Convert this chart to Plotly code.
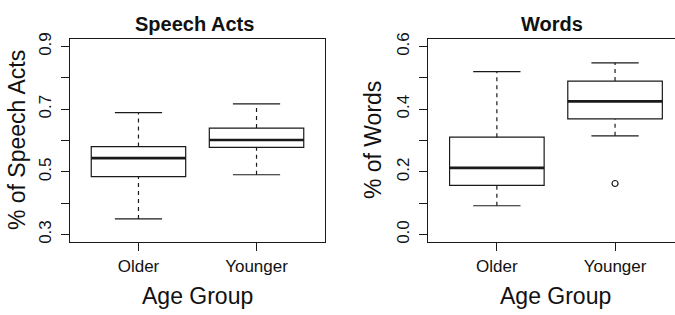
import plotly.graph_objects as go

# ---------------- data ----------------
groups = ["Older", "Younger"]
group_pos = [1, 2]

sa_lower = [0.350, 0.491]
sa_q1 = [0.485, 0.578]
sa_median = [0.544, 0.602]
sa_q3 = [0.581, 0.640]
sa_upper = [0.689, 0.717]
sa_outliers_x = []
sa_outliers_y = []

w_lower = [0.092, 0.315]
w_q1 = [0.157, 0.369]
w_median = [0.213, 0.425]
w_q3 = [0.311, 0.490]
w_upper = [0.520, 0.548]
w_outliers_x = [2]
w_outliers_y = [0.163]

sa_yticks = [0.3, 0.4, 0.5, 0.6, 0.7, 0.8, 0.9]
sa_yticktext = ["0.3", "", "0.5", "", "0.7", "", "0.9"]
w_yticks = [0.0, 0.1, 0.2, 0.3, 0.4, 0.5, 0.6]
w_yticktext = ["0.0", "", "0.2", "", "0.4", "", "0.6"]

# ---------------- style ----------------
W, H = 675, 315
FONT = "Liberation Sans, Arial, Helvetica, sans-serif"
LC = "#1a1a1a"
BOX_W = 0.8
CAP_W = 0.4

fig = go.Figure()


def add_panel(xa, ya, lower, q1, med, q3, upper, ox, oy):
    for i, p in enumerate(group_pos):
        fig.add_trace(go.Box(
            x=[p], q1=[q1[i]], median=[med[i]], q3=[q3[i]],
            lowerfence=[q1[i]], upperfence=[q3[i]],
            width=BOX_W, fillcolor="rgba(0,0,0,0)",
            line=dict(color=LC, width=1.2), whiskerwidth=0,
            boxpoints=False, showlegend=False, hoverinfo="skip",
            xaxis=xa, yaxis=ya))
        # whiskers (dashed)
        for a, b in ((lower[i], q1[i]), (q3[i], upper[i])):
            fig.add_trace(go.Scatter(
                x=[p, p], y=[a, b], mode="lines",
                line=dict(color=LC, width=1.2, dash="4px,4px"),
                showlegend=False, hoverinfo="skip", xaxis=xa, yaxis=ya))
        # caps
        for v in (lower[i], upper[i]):
            fig.add_trace(go.Scatter(
                x=[p - CAP_W / 2, p + CAP_W / 2], y=[v, v], mode="lines",
                line=dict(color=LC, width=1.2),
                showlegend=False, hoverinfo="skip", xaxis=xa, yaxis=ya))
        # thick median
        fig.add_trace(go.Scatter(
            x=[p - BOX_W / 2, p + BOX_W / 2], y=[med[i], med[i]], mode="lines",
            line=dict(color=LC, width=2.6),
            showlegend=False, hoverinfo="skip", xaxis=xa, yaxis=ya))
    if ox:
        fig.add_trace(go.Scatter(
            x=ox, y=oy, mode="markers",
            marker=dict(symbol="circle-open", size=6, color=LC, line=dict(width=1.2)),
            showlegend=False, hoverinfo="skip", xaxis=xa, yaxis=ya))


add_panel("x", "y", sa_lower, sa_q1, sa_median, sa_q3, sa_upper, sa_outliers_x, sa_outliers_y)
add_panel("x2", "y2", w_lower, w_q1, w_median, w_q3, w_upper, w_outliers_x, w_outliers_y)

ydom = [1 - 242 / H, 1 - 33 / H]
x1dom = [70 / W, 325 / W]
x2dom = [428.3 / W, 1.0]

common_x = dict(tickmode="array", tickvals=group_pos, ticktext=groups,
                ticks="outside", ticklen=8, tickcolor=LC, showgrid=False,
                zeroline=False, showline=True, linecolor=LC, linewidth=1.2,
                mirror=True, tickfont=dict(family=FONT, size=17, color="#111"))
common_y = dict(tickmode="array", ticks="outside", ticklen=8, tickcolor=LC,
                showgrid=False, zeroline=False, showline=True, linecolor=LC,
                linewidth=1.2, tickangle=-90, ticklabelstandoff=3,
                tickfont=dict(family=FONT, size=17, color="#111"))

fig.update_layout(
    width=W, height=H,
    margin=dict(l=0, r=0, t=0, b=0),
    paper_bgcolor="white", plot_bgcolor="white",
    xaxis=dict(domain=x1dom, range=[0.42, 2.58], anchor="y", **common_x),
    yaxis=dict(domain=ydom, range=[0.276, 0.924], anchor="x",
               tickvals=sa_yticks, ticktext=sa_yticktext, mirror=True, **common_y),
    xaxis2=dict(domain=x2dom, range=[0.42, 0.42 + (W - 428.3) / 118.2], anchor="y2", **common_x),
    yaxis2=dict(domain=ydom, range=[-0.024, 0.624], anchor="x2",
                tickvals=w_yticks, ticktext=w_yticktext, mirror=False, **common_y),
)

ann = []
def A(text, x, y, size, bold=False, angle=0):
    ann.append(dict(text=f"<b>{text}</b>" if bold else text, x=x / W, y=1 - y / H,
                    xref="paper", yref="paper", showarrow=False, textangle=angle,
                    xanchor="center", yanchor="middle",
                    font=dict(family=FONT, size=size, color="#111")))

A("Speech Acts", 194, 18, 20, bold=True)
A("Words", 552, 18, 20, bold=True)
A("Age Group", 197, 298, 23)
A("Age Group", 555, 298, 23)
A("% of Speech Acts", 17, 137, 23, angle=-90)
A("% of Words", 373, 137, 23, angle=-90)
fig.update_layout(annotations=ann)

fig.write_html(
    "out.html",
    config={"displayModeBar": False, "staticPlot": True},
    post_script="document.body.style.margin='0';document.body.style.padding='0';document.body.style.overflow='hidden';",
)
